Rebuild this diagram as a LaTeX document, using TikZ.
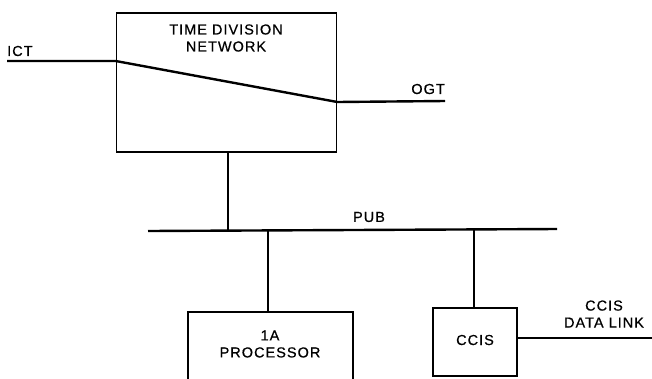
\documentclass[tikz,border=0pt]{standalone}
\usepackage{fontspec}
\setmainfont{Liberation Sans}[LetterSpace=7,FakeBold=0.6]
\begin{document}
\begin{tikzpicture}[x=1pt,y=-1pt,
  blockbox/.style={draw, line width=1.6pt, inner sep=0pt},
  sig/.style={line width=2.4pt},
  lbl/.style={inner sep=0pt, font=\fontsize{14.5}{17}\selectfont, align=center}]
\useasboundingbox (0,0) rectangle (652,378);
\clip (0,0) rectangle (652,378);
\fill[white] (0,0) rectangle (652,378);
% boxes
\node[blockbox, minimum width=220pt, minimum height=139pt] (tdn) at (226.5,82.5) {};
\node[blockbox, minimum width=165pt, minimum height=90pt] (proc) at (270.5,357) {};
\node[blockbox, minimum width=84pt, minimum height=68pt] (ccis) at (475,342) {};
% labels
\node[lbl] (tdnl) at (226,38) {TIME DIVISION\\NETWORK};
\node[lbl] (procl) at (270,344) {1A\\PROCESSOR};
\node[lbl] (ccisl) at (475,340) {CCIS};
\node[lbl, anchor=west] (ictl) at (7,51) {ICT};
\node[lbl, anchor=east] (ogtl) at (445,89) {OGT};
\node[lbl] (publ) at (369,217) {PUB};
\node[lbl] (dll) at (604,314) {CCIS\\DATA LINK};
% coordinates
\coordinate (ictend) at (7,61);
\coordinate (tdnin) at (tdn.west |- 0,61);
\coordinate (tdnout) at (tdn.east |- 0,102);
\coordinate (ogtend) at (445,101);
\coordinate (pubL) at (148,231);
\coordinate (pubR) at (557,229);
\coordinate (dlend) at (652,338);
% lines
\draw[sig] (ictend) -- (tdnin) -- (tdnout) -- (ogtend);
\draw[sig] (pubL) -- (pubR);
\draw[sig] (tdn.south -| 228,0) -- (228,231);
\draw[sig] (proc.north -| 268,0) -- (268,230.5);
\draw[sig] (ccis.north -| 474,0) -- (474,229.5);
\draw[sig] (ccis.east |- 0,338) -- (dlend);
\end{tikzpicture}
\end{document}
